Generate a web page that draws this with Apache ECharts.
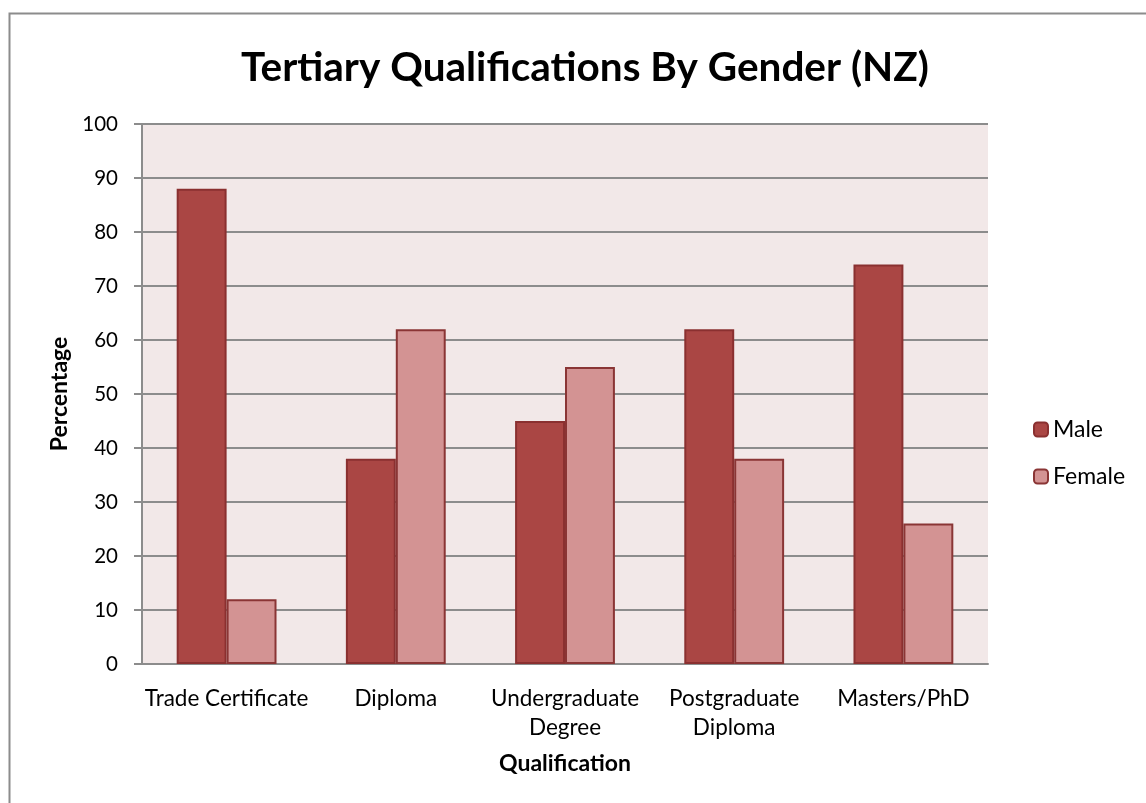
<!DOCTYPE html>
<html><head><meta charset="utf-8">
<script src="https://cdn.jsdelivr.net/npm/echarts@6/dist/echarts.min.js"></script>
<style>html,body{margin:0;padding:0;background:#fff;}#c{width:1146px;height:803px;}</style>
</head><body><div id="c"></div>
<script>
const categories = ["Trade Certificate", "Diploma", "Undergraduate\nDegree", "Postgraduate\nDiploma", "Masters/PhD"];
const maleValues = [88, 38, 45, 62, 74];
const femaleValues = [12, 62, 55, 38, 26];
const seriesNames = ["Male", "Female"];
const chartTitle = "Tertiary Qualifications By Gender (NZ)";
const xAxisTitle = "Qualification";
const yAxisTitle = "Percentage";

const FONT = "Lato, 'Open Sans', sans-serif";
const chart = echarts.init(document.getElementById('c'), null, {renderer: 'canvas'});
chart.setOption({
  animation: false,
  backgroundColor: '#fff',
  graphic: [{
    type: 'rect', silent: true, z: -10,
    shape: {x: 9.5, y: 13.5, width: 1200, height: 900},
    style: {fill: 'none', stroke: '#8c8c8c', lineWidth: 2}
  }],
  title: {
    text: chartTitle, left: 580, top: 42, textAlign: 'center',
    textStyle: {fontFamily: FONT, fontWeight: 'bold', fontSize: 40.5, color: '#000'}
  },
  legend: {
    orient: 'vertical', left: 1028, top: 413, itemGap: 24,
    itemWidth: 14, itemHeight: 14,
    textStyle: {fontFamily: FONT, fontSize: 23, color: '#000'},
    data: seriesNames
  },
  grid: {left: 142, right: 158, top: 124, bottom: 139, show: true, backgroundColor: '#f2e8e8', borderWidth: 0},
  xAxis: {
    type: 'category', data: categories,
    name: xAxisTitle, nameLocation: 'middle', nameGap: 88,
    nameTextStyle: {fontFamily: FONT, fontWeight: 'bold', fontSize: 23, color: '#000'},
    axisLine: {lineStyle: {color: '#8c8c8c', width: 2}},
    axisTick: {show: false},
    axisLabel: {interval: 0, fontFamily: FONT, fontSize: 22.5, color: '#000', margin: 20, lineHeight: 29}
  },
  yAxis: {
    type: 'value', min: 0, max: 100, interval: 10,
    name: yAxisTitle, nameLocation: 'middle', nameGap: 68, nameRotate: 90,
    nameTextStyle: {fontFamily: FONT, fontWeight: 'bold', fontSize: 23, color: '#000'},
    axisLine: {show: true, lineStyle: {color: '#8c8c8c', width: 2}},
    axisTick: {show: true, length: 8, lineStyle: {color: '#8c8c8c', width: 2}},
    axisLabel: {fontFamily: FONT, fontSize: 20.5, color: '#000', margin: 24},
    splitLine: {lineStyle: {color: '#8c8c8c', width: 2}}
  },
  series: [
    {name: seriesNames[0], type: 'bar', data: maleValues, barGap: '0%', barCategoryGap: '41%',
     itemStyle: {color: '#aa4644', borderColor: '#8a3030', borderWidth: 2}},
    {name: seriesNames[1], type: 'bar', data: femaleValues, barGap: '0%', barCategoryGap: '41%',
     itemStyle: {color: '#d39393', borderColor: '#8a3535', borderWidth: 2}}
  ]
});
</script></body></html>
